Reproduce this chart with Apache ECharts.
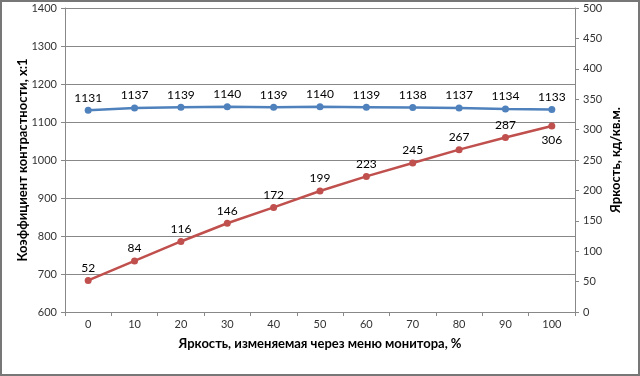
<!DOCTYPE html>
<html>
<head>
<meta charset="utf-8">
<script src="https://cdn.jsdelivr.net/npm/echarts@6/dist/echarts.min.js"></script>
<style>
  html, body { margin: 0; padding: 0; background: #fff; }
  #chart { width: 640px; height: 376px; box-sizing: border-box; border: 2px solid #777; }
</style>
</head>
<body>
<div id="chart"></div>
<script>
  // данные с графика
  var categories = ['0', '10', '20', '30', '40', '50', '60', '70', '80', '90', '100'];
  var contrast = [1131, 1137, 1139, 1140, 1139, 1140, 1139, 1138, 1137, 1134, 1133];
  var brightness = [52, 84, 116, 146, 172, 199, 223, 245, 267, 287, 306];

  var font = 'Lato, "Liberation Sans", sans-serif';
  var chart = echarts.init(document.getElementById('chart'));

  // последняя подпись красной линии стоит под точкой
  var brightnessData = brightness.map(function (v, i) {
    if (i === brightness.length - 1) {
      return { value: v, label: { position: 'bottom', distance: 5 } };
    }
    return v;
  });

  var option = {
    animation: false,
    textStyle: { fontFamily: font },
    grid: { left: 63, right: 63, top: 6, bottom: 62 },
    xAxis: {
      type: 'category',
      data: categories,
      boundaryGap: true,
      name: 'Яркость, изменяемая через меню монитора, %',
      nameLocation: 'middle',
      nameGap: 25,
      nameMoveOverlap: false,
      nameTextStyle: { fontSize: 13, fontWeight: 'bold', color: '#000' },
      axisLine: { lineStyle: { color: '#888' } },
      axisTick: { show: true, length: 4, interval: 0, lineStyle: { color: '#888' } },
      axisLabel: { color: '#333', fontSize: 11, margin: 7 },
      splitLine: { show: false }
    },
    yAxis: [{
      type: 'value',
      min: 600, max: 1400, interval: 100,
      name: 'Коэффициент контрастности, x:1',
      nameLocation: 'middle',
      nameGap: 36,
      nameMoveOverlap: false,
      nameTextStyle: { fontSize: 13, fontWeight: 'bold', color: '#000' },
      axisLine: { show: true, lineStyle: { color: '#888' } },
      axisTick: { show: true, length: 4, lineStyle: { color: '#888' } },
      axisLabel: { color: '#333', fontSize: 11, margin: 8, formatter: function (v) { return String(v); } },
      splitLine: { lineStyle: { color: '#888' } }
    }, {
      type: 'value',
      min: 0, max: 500, interval: 50,
      name: 'Яркость, кд/кв.м.',
      nameLocation: 'middle',
      nameGap: 34,
      nameRotate: 90,
      nameMoveOverlap: false,
      nameTextStyle: { fontSize: 13, fontWeight: 'bold', color: '#000' },
      axisLine: { show: true, lineStyle: { color: '#888' } },
      axisTick: { show: true, length: 4, lineStyle: { color: '#888' } },
      axisLabel: { color: '#333', fontSize: 11, margin: 8 },
      splitLine: { show: false }
    }],
    series: [{
      name: 'Контраст',
      type: 'line',
      yAxisIndex: 0,
      data: contrast,
      symbol: 'circle',
      symbolSize: 7,
      itemStyle: { color: '#4f81bd' },
      lineStyle: { color: '#4f81bd', width: 2.5 },
      label: { show: true, position: 'top', distance: 3, color: '#000', fontSize: 12 }
    }, {
      name: 'Яркость',
      type: 'line',
      yAxisIndex: 1,
      data: brightnessData,
      symbol: 'circle',
      symbolSize: 7,
      itemStyle: { color: '#c0504d' },
      lineStyle: { color: '#c0504d', width: 2.5 },
      label: { show: true, position: 'top', distance: 3, color: '#000', fontSize: 12 }
    }]
  };

  chart.setOption(option);
</script>
</body>
</html>
